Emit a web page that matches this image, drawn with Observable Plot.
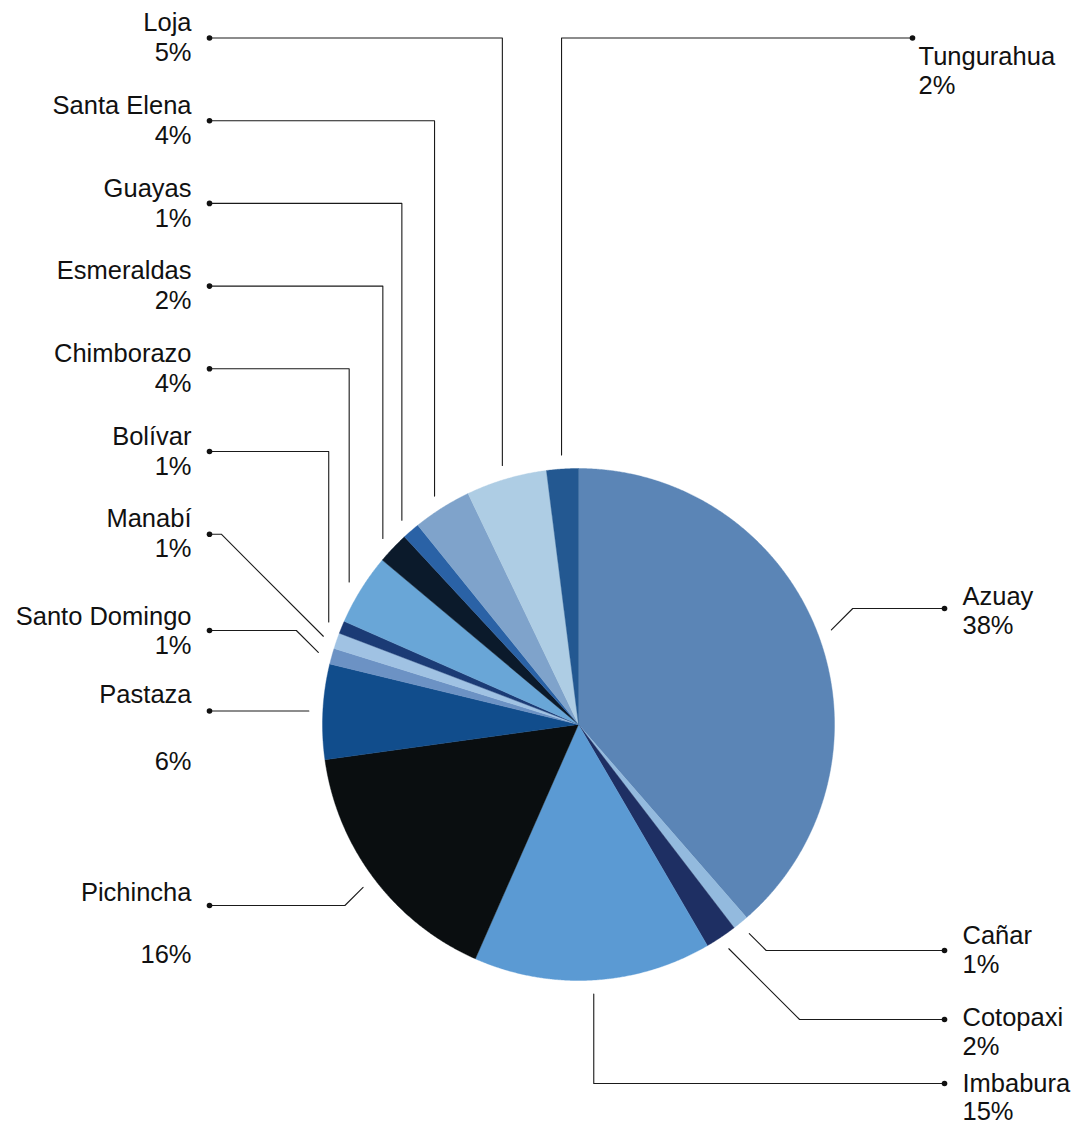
<!DOCTYPE html>
<html>
<head>
<meta charset="utf-8">
<script src="https://cdn.jsdelivr.net/npm/d3@7"></script>
<script src="https://cdn.jsdelivr.net/npm/@observablehq/plot@0.6"></script>
<style>
  html, body { margin: 0; padding: 0; background: #ffffff; }
  #chart { width: 1076px; height: 1128px; }
  #chart svg { display: block; }
</style>
</head>
<body>
<div id="chart"></div>
<script>
// ---------- DATA (clockwise from 12 o'clock) ----------
const provinces = ["Azuay", "Cañar", "Cotopaxi", "Imbabura", "Pichincha", "Pastaza",
  "Santo Domingo", "Manabí", "Bolívar", "Chimborazo", "Esmeraldas", "Guayas",
  "Santa Elena", "Loja", "Tungurahua"];
const shares = [38.6, 1.0, 2.0, 15.0, 16.2, 6.0, 1.0, 1.0, 0.8, 4.5, 2.0, 1.1, 3.7, 5.1, 2.0];
const pctLabels = ["38%", "1%", "2%", "15%", "16%", "6%", "1%", "1%", "1%", "4%", "2%", "1%", "4%", "5%", "2%"];
const sliceColors = ["#5b85b6", "#93bade", "#1e2f63", "#5b9ad3", "#0a0e10", "#114d8c",
  "#6c92c4", "#a0c2e3", "#1b3b75", "#69a6d7", "#0b1a2b", "#2a62a6",
  "#7fa3cb", "#aecde4", "#235891"];

// ---------- LAYOUT (pixels) ----------
const W = 1076, H = 1128;
const CX = 578, CY = 724, RADIUS = 256, LEAD = 14;
const LEFT_DOT_X = 209, RIGHT_DOT_X = 944, LEFT_TEXT_X = 191, RIGHT_TEXT_X = 962;
const ROW0 = 37.5, ROW_STEP = 82.7;
// side, leader kind, dot row y, vertical offsets of name/percent lines
const labelLayout = {
  "Azuay":         {side: "R", kind: "diag", y: 608,  nameDy: -12, pctDy: 17},
  "Cañar":         {side: "R", kind: "diag", y: 950,  nameDy: -15, pctDy: 14},
  "Cotopaxi":      {side: "R", kind: "diag", y: 1019, nameDy: -2,  pctDy: 27},
  "Imbabura":      {side: "R", kind: "vert", y: 1083, nameDy: 0,   pctDy: 28},
  "Pichincha":     {side: "L", kind: "diag", y: 905,  nameDy: -13, pctDy: 49},
  "Pastaza":       {side: "L", kind: "flat",           nameDy: -16, pctDy: 51},
  "Santo Domingo": {side: "L", kind: "diag", y: 630,  nameDy: -14, pctDy: 15},
  "Manabí":        {side: "L", kind: "diag", row: 6,  nameDy: -15, pctDy: 15},
  "Bolívar":       {side: "L", kind: "vert", row: 5,  nameDy: -15, pctDy: 15},
  "Chimborazo":    {side: "L", kind: "vert", row: 4,  nameDy: -15, pctDy: 15},
  "Esmeraldas":    {side: "L", kind: "vert", row: 3,  nameDy: -15, pctDy: 15},
  "Guayas":        {side: "L", kind: "vert", row: 2,  nameDy: -15, pctDy: 15},
  "Santa Elena":   {side: "L", kind: "vert", row: 1,  nameDy: -15, pctDy: 15},
  "Loja":          {side: "L", kind: "vert", row: 0,  nameDy: -15, pctDy: 15},
  "Tungurahua":    {side: "R", kind: "vert", y: 37.5, nameDy: 19,  pctDy: 48, dotX: 912, textX: 918}
};

// ---------- GEOMETRY from d3.pie ----------
const arcs = d3.pie().sort(null).value(d => d)(shares);
const pt = (a, r) => ({x: CX + r * Math.sin(a), y: CY - r * Math.cos(a)});

const slicePts = [];
arcs.forEach((a, i) => {
  const name = provinces[i];
  const n = Math.max(2, Math.ceil((a.endAngle - a.startAngle) / (Math.PI / 720)));
  slicePts.push({name, ...pt(0, 0)});
  for (let k = 0; k <= n; k++) {
    const ang = a.startAngle + (a.endAngle - a.startAngle) * k / n;
    slicePts.push({name, ...pt(ang, RADIUS)});
  }
  slicePts.push({name, ...pt(0, 0)});
});

const labels = [];
const leaderPts = [];
arcs.forEach((a, i) => {
  const name = provinces[i];
  const L = labelLayout[name];
  const mid = (a.startAngle + a.endAngle) / 2;
  const anchor = pt(mid, RADIUS + LEAD);
  const dotY = L.kind === "flat" ? anchor.y : (L.y !== undefined ? L.y : ROW0 + L.row * ROW_STEP);
  const dir = L.side === "L" ? -1 : 1;
  const dotX = L.dotX !== undefined ? L.dotX : (L.side === "L" ? LEFT_DOT_X : RIGHT_DOT_X);
  const textX = L.textX !== undefined ? L.textX : (L.side === "L" ? LEFT_TEXT_X : RIGHT_TEXT_X);
  let elbow;
  if (L.kind === "vert" || L.kind === "flat") elbow = {x: anchor.x, y: dotY};
  else elbow = {x: anchor.x + dir * Math.abs(dotY - anchor.y), y: dotY};
  leaderPts.push({name, ...anchor}, {name, ...elbow}, {name, x: dotX, y: dotY});
  labels.push({name, pct: pctLabels[i], side: L.side, dotX, dotY, textX,
    nameY: dotY + L.nameDy, pctY: dotY + L.pctDy});
});

const font = "'Liberation Sans', Arial, Helvetica, sans-serif";
const textOpts = {fontSize: 25.5, fontFamily: font, fill: "#111111"};

const chart = Plot.plot({
  width: W,
  height: H,
  margin: 0,
  x: {domain: [0, W], range: [0, W], axis: null},
  y: {domain: [0, H], range: [0, H], axis: null},
  color: {type: "ordinal", domain: provinces, range: sliceColors},
  style: {background: "#ffffff", fontFamily: font},
  marks: [
    Plot.line(slicePts, {x: "x", y: "y", z: "name", fill: "name", stroke: "name", strokeWidth: 0.4, curve: "linear"}),
    Plot.line(leaderPts, {x: "x", y: "y", z: "name", stroke: "#1a1a1a", strokeWidth: 1.1, curve: "linear"}),
    Plot.dot(labels, {x: "dotX", y: "dotY", r: 2.8, fill: "#111111", stroke: null}),
    Plot.text(labels.filter(d => d.side === "L"), {x: "textX", y: "nameY", text: "name", textAnchor: "end", ...textOpts}),
    Plot.text(labels.filter(d => d.side === "L"), {x: "textX", y: "pctY", text: "pct", textAnchor: "end", ...textOpts}),
    Plot.text(labels.filter(d => d.side === "R"), {x: "textX", y: "nameY", text: "name", textAnchor: "start", ...textOpts}),
    Plot.text(labels.filter(d => d.side === "R"), {x: "textX", y: "pctY", text: "pct", textAnchor: "start", ...textOpts})
  ]
});
document.getElementById("chart").appendChild(chart);
</script>
</body>
</html>
